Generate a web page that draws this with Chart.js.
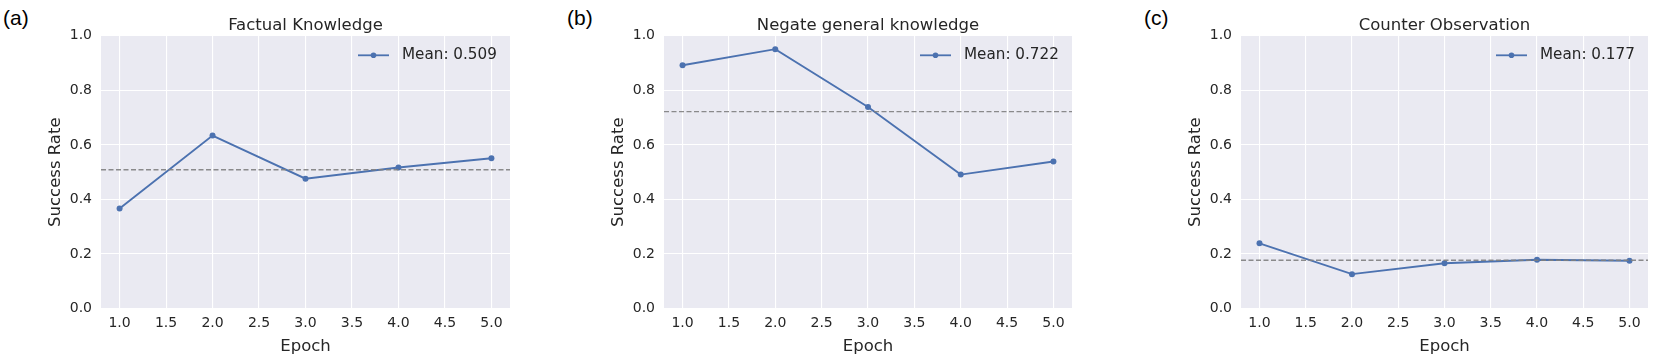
<!DOCTYPE html>
<html>
    <head>
        <meta charset="UTF-8">
        <title>Success Rate per Epoch</title>
        <script src="https://cdn.jsdelivr.net/npm/chart.js"></script>
        <style>
            body { margin: 0; background: #ffffff; width: 1661px; height: 354px; position: relative; overflow: hidden; }
            canvas { position: absolute; top: 0; }
            .panel_letter { position: absolute; top: 7px; font-family: "Liberation Sans", Arial, sans-serif; font-size: 21px; line-height: 1; color: #000000; }
        </style>
    </head>

    <body>
        <div class="panel_letter" style="left: 3px;">(a)</div>
        <div class="panel_letter" style="left: 567px;">(b)</div>
        <div class="panel_letter" style="left: 1144px;">(c)</div>

        <canvas id="chart_a" width="473" height="354" style="left: 41px;"></canvas>
        <canvas id="chart_b" width="472" height="354" style="left: 604px;"></canvas>
        <canvas id="chart_c" width="471" height="354" style="left: 1181px;"></canvas>

    <script>

//                                                              DATA
//---------------------------------------------------------------------------------------------------------------------------------------------------------
    const epochs = [1, 2, 3, 4, 5];
    const factualRates = [0.367, 0.634, 0.476, 0.517, 0.551];
    const negateRates = [0.892, 0.951, 0.739, 0.491, 0.539];
    const counterRates = [0.239, 0.126, 0.166, 0.179, 0.175];
    const meanRates = [0.509, 0.722, 0.177];
    const panelTitles = ['Factual Knowledge', 'Negate general knowledge', 'Counter Observation'];
    const xBounds = [0.8, 5.2];
    const yBounds = [0, 1];

    const lineBlue = '#4C72B0';
    const textColor = '#262626';

    Chart.defaults.font.family = '"DejaVu Sans", sans-serif';
    Chart.defaults.color = textColor;

//                                                              PLUGINS
//---------------------------------------------------------------------------------------------------------------------------------------------------------
    //grey seaborn background behind the plot area
    const plotBackground = {
        id: 'plotBackground',
        beforeDraw(chart) {
            const {ctx, chartArea} = chart;
            ctx.save();
            ctx.fillStyle = '#EAEAF2';
            ctx.fillRect(chartArea.left, chartArea.top, chartArea.width, chartArea.height);
            ctx.restore();
        }
    };

    //legend sits inside the plot, top right
    const meanLegend = {
        id: 'meanLegend',
        afterDraw(chart, args, opts) {
            const {ctx, chartArea} = chart;
            const y = chartArea.top + 19.5;
            const x0 = chartArea.right - 152;
            const x1 = chartArea.right - 121;
            ctx.save();
            ctx.strokeStyle = lineBlue;
            ctx.lineWidth = 1.8;
            ctx.beginPath();
            ctx.moveTo(x0, y);
            ctx.lineTo(x1, y);
            ctx.stroke();
            ctx.fillStyle = lineBlue;
            ctx.beginPath();
            ctx.arc((x0 + x1) / 2, y, 2.8, 0, Math.PI * 2);
            ctx.fill();
            ctx.font = '15.2px "DejaVu Sans"';
            ctx.fillStyle = textColor;
            ctx.textBaseline = 'middle';
            ctx.textAlign = 'left';
            ctx.fillText(opts.text, chartArea.right - 108, y);
            ctx.restore();
        }
    };

//                                                              GRAPH SUCCESS RATE
//---------------------------------------------------------------------------------------------------------------------------------------------------------
    function successRateChart(canvasId, title, rates, mean) {
        let location = document.getElementById(canvasId);

        return new Chart(location, {
            type: 'line',
            data: {
                datasets: [
                    {
                        data: [{x: xBounds[0], y: mean}, {x: xBounds[1], y: mean}],
                        borderColor: 'rgba(128, 128, 128, 0.9)',
                        borderWidth: 1.4,
                        borderDash: [5, 2.5],
                        pointRadius: 0,
                    },
                    {
                        data: epochs.map((e, i) => ({x: e, y: rates[i]})),
                        borderColor: lineBlue,
                        backgroundColor: lineBlue,
                        borderWidth: 1.9,
                        pointRadius: 3,
                        pointBorderWidth: 0,
                        tension: 0,
                    },
                ],
            },
            options: {
                responsive: false,
                animation: false,
                layout: { padding: 0 },
                plugins: {
                    legend: { display: false },
                    tooltip: { enabled: false },
                    title: {
                        display: true,
                        text: title,
                        fullSize: false,
                        color: textColor,
                        font: { size: 16.5, weight: 'normal' },
                        padding: { top: 16, bottom: 0 },
                    },
                    meanLegend: { text: 'Mean: ' + mean.toFixed(3) },
                },
                scales: {
                    x: {
                        type: 'linear',
                        min: xBounds[0],
                        max: xBounds[1],
                        border: { display: false },
                        grid: { color: '#ffffff', lineWidth: 1.1, drawTicks: false },
                        ticks: {
                            stepSize: 0.5,
                            includeBounds: false,
                            padding: 6.5,
                            font: { size: 14 },
                            color: textColor,
                            callback: (v) => v.toFixed(1),
                        },
                        title: {
                            display: true,
                            text: 'Epoch',
                            color: textColor,
                            font: { size: 16.5 },
                            padding: { top: 0, bottom: -2.5 },
                        },
                        afterFit: (scale) => { scale.height = 45.5; },
                    },
                    y: {
                        min: yBounds[0],
                        max: yBounds[1],
                        border: { display: false },
                        grid: { color: '#ffffff', lineWidth: 1.1, drawTicks: false },
                        ticks: {
                            stepSize: 0.2,
                            padding: 9,
                            font: { size: 14 },
                            color: textColor,
                            callback: (v) => v.toFixed(1),
                        },
                        title: {
                            display: true,
                            text: 'Success Rate',
                            color: textColor,
                            font: { size: 16.5 },
                            padding: { top: 5, bottom: 0 },
                        },
                        afterFit: (scale) => { scale.width = 60; },
                    },
                },
            },
            plugins: [plotBackground, meanLegend],
        });
    }

    successRateChart('chart_a', panelTitles[0], factualRates, meanRates[0]);
    successRateChart('chart_b', panelTitles[1], negateRates, meanRates[1]);
    successRateChart('chart_c', panelTitles[2], counterRates, meanRates[2]);

//                                                              END OF SCRIPT
//---------------------------------------------------------------------------------------------------------------------------------------------------------
    </script>
    </body>
</html>
